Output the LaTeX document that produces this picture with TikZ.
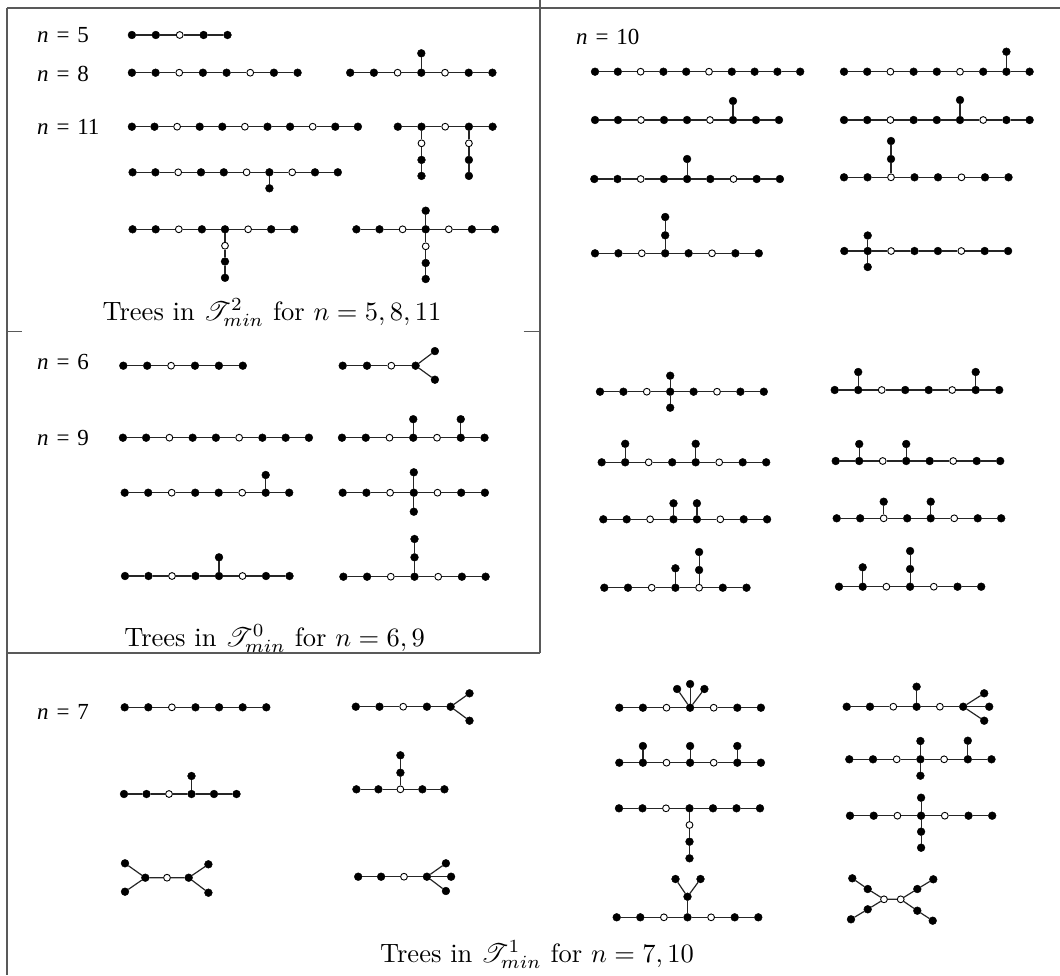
\documentclass[tikz,border=0pt]{standalone}
\usepackage{fontspec}
\usepackage{mathrsfs}
\newfontfamily\timesf{Liberation Serif}
\tikzset{
  bn/.style={circle,fill=black,draw=black,line width=0.4pt,inner sep=0pt,minimum size=7.8pt},
  wn/.style={circle,fill=white,draw=black,line width=0.9pt,inner sep=0pt,minimum size=6.8pt},
  edge/.style={draw=black!85,line width=1.2pt},
  frame/.style={draw=black!65,line width=1.4pt},
  lab/.style={anchor=west,inner sep=0pt,font=\fontsize{23}{26}\selectfont\timesf},
  capt/.style={anchor=base,inner sep=0pt,scale=2.65},
}
\newcommand\nlab[1]{{\itshape n}\kern0.34em=\kern0.34em#1}
% spine: name, x0, y, dx, list of styles
\newcommand\spine[5]{%
  \foreach \s [count=\i] in {#5} {\node[\s] (#1\i) at ({#2+(\i-1)*#4},#3) {};}%
  \foreach \s [count=\i] in {#5} {\ifnum\i>1 \pgfmathtruncatemacro\j{\i-1}\draw[edge] (#1\j) -- (#1\i);\fi}%
}
% pendant: parent, name, xshift, yshift (up positive), style
\newcommand\pend[5]{\node[#5] (#2) at ([xshift=#3pt,yshift=#4pt]#1.center) {};\draw[edge] (#1) -- (#2);}
\begin{document}
\begin{tikzpicture}[x=1pt,y=-1pt]
\useasboundingbox (0,0) rectangle (1060,975);
% frames
\draw[frame] (6.9,8) -- (1060,8);
\draw[frame] (6.9,8) -- (6.9,975);
\draw[frame] (540,0) -- (540,653);
\draw[frame] (6.9,653) -- (540,653);
\draw[frame] (6.9,331.7) -- (22.4,331.7);
\draw[frame] (523.5,331.7) -- (540,331.7);

% ---------- T^2 box ----------
\node[lab] (l5) at (37,35) {\nlab{5}};
\node[lab] (l8) at (37,74) {\nlab{8}};
\node[lab] (l11) at (37,127) {\nlab{11}};
\spine{ta}{131.9}{35}{23.9}{bn,bn,wn,bn,bn}
\spine{tb}{131.9}{72.7}{23.67}{bn,bn,wn,bn,bn,wn,bn,bn}
\spine{tc}{350.2}{72.7}{23.7}{bn,bn,wn,bn,wn,bn,bn}
\pend{tc4}{tc4u}{0}{19.4}{bn}
\spine{td}{131.9}{126.7}{22.6}{bn,bn,wn,bn,bn,wn,bn,bn,wn,bn,bn}
\spine{te}{397.8}{126.7}{23.7}{bn,bn,wn,bn,bn}
\pend{te2}{te2a}{0}{-16.6}{wn}\pend{te2a}{te2b}{0}{-16.6}{bn}\pend{te2b}{te2c}{0}{-16}{bn}
\pend{te4}{te4a}{0}{-16.6}{wn}\pend{te4a}{te4b}{0}{-16.6}{bn}\pend{te4b}{te4c}{0}{-16}{bn}
\spine{tf}{132.6}{172.3}{22.8}{bn,bn,wn,bn,bn,wn,bn,wn,bn,bn}
\pend{tf7}{tf7d}{0}{-16}{bn}
\spine{tg}{132.6}{229.3}{23.1}{bn,bn,wn,bn,bn,wn,bn,bn}
\pend{tg5}{tg5a}{0}{-16.4}{wn}\pend{tg5a}{tg5b}{0}{-15.8}{bn}\pend{tg5b}{tg5c}{0}{-16.3}{bn}
\spine{th}{356.4}{229.3}{23.1}{bn,bn,wn,bn,wn,bn,bn}
\pend{th4}{th4u}{0}{18.6}{bn}
\pend{th4}{th4a}{0}{-17}{wn}\pend{th4a}{th4b}{0}{-16.7}{bn}\pend{th4b}{th4c}{0}{-16}{bn}
\node[capt] (c1) at (272,320) {Trees in $\mathscr{T}^2_{min}$ for $n=5,8,11$};

% ---------- T^0 box ----------
\node[lab] (l6) at (37,361.7) {\nlab{6}};
\node[lab] (l9) at (37,438.3) {\nlab{9}};
\spine{ua}{123.3}{365.7}{23.9}{bn,bn,wn,bn,bn,bn}
\spine{ub}{342.7}{365.7}{24.3}{bn,bn,wn,bn}
\pend{ub4}{ub4a}{19.3}{14.6}{bn}\pend{ub4}{ub4b}{19.3}{-14}{bn}
\spine{uc}{122.9}{437.7}{23.25}{bn,bn,wn,bn,bn,wn,bn,bn,bn}
\spine{ud}{342}{437.7}{23.75}{bn,bn,wn,bn,wn,bn,bn}
\pend{ud4}{ud4u}{0}{18.5}{bn}\pend{ud6}{ud6u}{0}{18.5}{bn}
\spine{ue}{124.7}{492.7}{23.5}{bn,bn,wn,bn,bn,wn,bn,bn}
\pend{ue7}{ue7u}{0}{17.7}{bn}
\spine{uf}{342.7}{492.7}{23.7}{bn,bn,wn,bn,wn,bn,bn}
\pend{uf4}{uf4u}{0}{20.4}{bn}\pend{uf4}{uf4d}{0}{-19}{bn}
\spine{ug}{125}{576}{23.5}{bn,bn,wn,bn,bn,wn,bn,bn}
\pend{ug5}{ug5u}{0}{18.7}{bn}
\spine{uh}{343.4}{576.7}{23.7}{bn,bn,wn,bn,wn,bn,bn}
\pend{uh4}{uh4a}{0}{19.4}{bn}\pend{uh4a}{uh4b}{0}{18.3}{bn}
\node[capt] (c2) at (274.6,646) {Trees in $\mathscr{T}^0_{min}$ for $n=6,9$};

% ---------- right column, n = 10 ----------
\node[lab] (l10) at (576,36.7) {\nlab{10}};
\spine{ra}{595}{71.7}{22.8}{bn,bn,wn,bn,bn,wn,bn,bn,bn,bn}
\spine{rb}{844}{71.7}{23.2}{bn,bn,wn,bn,bn,wn,bn,bn,bn}
\pend{rb8}{rb8u}{0}{20}{bn}
\spine{rc}{595}{120}{23.0}{bn,bn,wn,bn,bn,wn,bn,bn,bn}
\pend{rc7}{rc7u}{0}{19}{bn}
\spine{rd}{844}{120}{23.2}{bn,bn,wn,bn,bn,bn,wn,bn,bn}
\pend{rd6}{rd6u}{0}{20}{bn}
\spine{re}{594.3}{179}{23.2}{bn,bn,wn,bn,bn,bn,wn,bn,bn}
\pend{re5}{re5u}{0}{20}{bn}
\spine{rf}{844}{177.3}{23.5}{bn,bn,wn,bn,bn,wn,bn,bn}
\pend{rf3}{rf3a}{0}{18.3}{bn}\pend{rf3a}{rf3b}{0}{18}{bn}
\spine{rg}{595}{253.3}{23.4}{bn,bn,wn,bn,bn,wn,bn,bn}
\pend{rg4}{rg4a}{0}{18}{bn}\pend{rg4a}{rg4b}{0}{18.3}{bn}
\spine{rh}{844.3}{251}{23.4}{bn,bn,wn,bn,bn,wn,bn,bn}
\pend{rh2}{rh2u}{0}{15.5}{bn}\pend{rh2}{rh2d}{0}{-16}{bn}

\spine{ri}{600}{391.7}{23.4}{bn,bn,wn,bn,bn,wn,bn,bn}
\pend{ri4}{ri4u}{0}{16}{bn}\pend{ri4}{ri4d}{0}{-16}{bn}
\spine{rj}{834.7}{390}{23.5}{bn,bn,wn,bn,bn,wn,bn,bn}
\pend{rj2}{rj2u}{0}{18}{bn}\pend{rj7}{rj7u}{0}{18}{bn}
\spine{rk}{601.7}{462.3}{23.5}{bn,bn,wn,bn,bn,wn,bn,bn}
\pend{rk2}{rk2u}{0}{18.5}{bn}\pend{rk5}{rk5u}{0}{18.5}{bn}
\spine{rl}{835.7}{461}{23.5}{bn,bn,wn,bn,bn,wn,bn,bn}
\pend{rl2}{rl2u}{0}{17}{bn}\pend{rl4}{rl4u}{0}{17}{bn}
\spine{rm}{603.3}{519.3}{23.4}{bn,bn,wn,bn,bn,wn,bn,bn}
\pend{rm4}{rm4u}{0}{16}{bn}\pend{rm5}{rm5u}{0}{16}{bn}
\spine{rn}{836.7}{518.3}{23.5}{bn,bn,wn,bn,bn,wn,bn,bn}
\pend{rn3}{rn3u}{0}{16.6}{bn}\pend{rn5}{rn5u}{0}{16.6}{bn}
\spine{ro}{604.3}{587.7}{23.7}{bn,bn,wn,bn,wn,bn,bn}
\pend{ro4}{ro4u}{0}{19.4}{bn}
\pend{ro5}{ro5a}{0}{17.7}{bn}\pend{ro5a}{ro5b}{0}{18}{bn}
\spine{rp}{839}{586.7}{23.7}{bn,bn,wn,bn,wn,bn,bn}
\pend{rp2}{rp2u}{0}{19.4}{bn}
\pend{rp4}{rp4a}{0}{17.7}{bn}\pend{rp4a}{rp4b}{0}{18}{bn}

% ---------- bottom, n = 7 ----------
\node[lab] (l7) at (37,711.7) {\nlab{7}};
\spine{ba}{124.7}{707.3}{23.6}{bn,bn,wn,bn,bn,bn,bn}
\spine{bb}{355.8}{706.7}{23.7}{bn,bn,wn,bn,bn}
\pend{bb5}{bb5a}{18.9}{13.4}{bn}\pend{bb5}{bb5b}{18.9}{-14}{bn}
\spine{bc}{124}{794}{22.5}{bn,bn,wn,bn,bn,bn}
\pend{bc4}{bc4u}{0}{18}{bn}
\spine{bd}{356.4}{789.3}{22}{bn,bn,wn,bn,bn}
\pend{bd3}{bd3a}{0}{16.6}{bn}\pend{bd3a}{bd3b}{0}{17.4}{bn}
\node[bn] (be1) at (145.3,877.7) {};
\node[wn] (be2) at (167,877.7) {};
\node[bn] (be3) at (188.7,877.7) {};
\node[bn] (be4) at (125,863.3) {};
\node[bn] (be5) at (125,891.7) {};
\node[bn] (be6) at (208.4,864.3) {};
\node[bn] (be7) at (208.4,892.7) {};
\draw[edge] (be4)--(be1) (be5)--(be1) (be1)--(be2) (be2)--(be3) (be3)--(be6) (be3)--(be7);
\spine{bf}{358.2}{876.7}{22.9}{bn,bn,wn,bn}
\pend{bf4}{bf4a}{19}{13.4}{bn}\pend{bf4}{bf4b}{24.2}{0}{bn}\pend{bf4}{bf4c}{19}{-14.3}{bn}

% ---------- bottom right, n = 10 ----------
\spine{qa}{619.3}{707.7}{23.6}{bn,bn,wn,bn,wn,bn,bn}
\pend{qa4}{qa4a}{-13}{18.7}{bn}\pend{qa4}{qa4b}{0}{23.7}{bn}\pend{qa4}{qa4c}{14.3}{18.7}{bn}
\spine{qb}{846.7}{706.7}{23.3}{bn,bn,wn,bn,wn,bn}
\pend{qb4}{qb4u}{0}{20}{bn}
\pend{qb6}{qb6a}{21}{13.4}{bn}\pend{qb6}{qb6b}{26}{0}{bn}\pend{qb6}{qb6c}{21}{-14}{bn}
\spine{qc}{619.3}{762.7}{23.6}{bn,bn,wn,bn,wn,bn,bn}
\pend{qc2}{qc2u}{0}{16.7}{bn}\pend{qc4}{qc4u}{0}{16.7}{bn}\pend{qc6}{qc6u}{0}{16.7}{bn}
\spine{qd}{849.3}{759.3}{23.7}{bn,bn,wn,bn,wn,bn,bn}
\pend{qd4}{qd4u}{0}{18.3}{bn}\pend{qd4}{qd4d}{0}{-16.4}{bn}\pend{qd6}{qd6u}{0}{18.6}{bn}
\spine{qe}{619}{808.3}{23.5}{bn,bn,wn,bn,bn,bn,bn}
\pend{qe4}{qe4a}{0}{-16.7}{wn}\pend{qe4a}{qe4b}{0}{-16.7}{bn}\pend{qe4b}{qe4c}{0}{-16.6}{bn}
\spine{qf}{850}{815.7}{23.7}{bn,bn,wn,bn,wn,bn,bn}
\pend{qf4}{qf4u}{0}{18}{bn}
\pend{qf4}{qf4a}{0}{-16}{bn}\pend{qf4a}{qf4b}{0}{-16}{bn}
\spine{qg}{616.7}{917.3}{23.6}{bn,bn,wn,bn,wn,bn,bn}
\pend{qg4}{qg4u}{0}{20.6}{bn}
\pend{qg4u}{qg4a}{-12}{17.7}{bn}\pend{qg4u}{qg4b}{13}{17.7}{bn}
\node[wn] (qh1) at (884,899.3) {};
\node[wn] (qh2) at (900.7,899.3) {};
\node[bn] (qh3) at (867.7,889) {};
\node[bn] (qh4) at (852.3,878.3) {};
\node[bn] (qh5) at (867.7,909.3) {};
\node[bn] (qh6) at (851,919.3) {};
\node[bn] (qh7) at (917.3,889) {};
\node[bn] (qh8) at (933.3,879.3) {};
\node[bn] (qh9) at (917.3,910.7) {};
\node[bn] (qh10) at (932.7,920.7) {};
\draw[edge] (qh1)--(qh2) (qh1)--(qh3) (qh3)--(qh4) (qh1)--(qh5) (qh5)--(qh6)
  (qh2)--(qh7) (qh7)--(qh8) (qh2)--(qh9) (qh9)--(qh10);
\node[capt] (c3) at (537,962) {Trees in $\mathscr{T}^1_{min}$ for $n=7,10$};
\end{tikzpicture}
\end{document}
